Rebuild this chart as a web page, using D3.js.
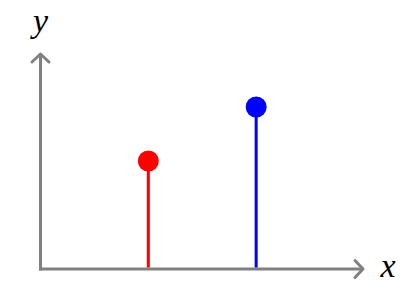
<!DOCTYPE html>
<html>
<head>
<meta charset="utf-8">
<script src="https://cdn.jsdelivr.net/npm/d3@7"></script>
<style>
  html, body { margin: 0; padding: 0; background: #fff; }
  svg { display: block; }
</style>
</head>
<body>
<svg id="chart"></svg>
<script>
const WIDTH = 414;
const HEIGHT = 304;

// data
const stemX = [1, 2];
const stemY = [1, 1.5];
const stemColors = ['#ff0000', '#0000ff'];
const axisLabels = ['x', 'y'];
const xDomain = [0, 3];
const yDomain = [0, 2];

const svg = d3.select('#chart')
	.attr('width', WIDTH)
	.attr('height', HEIGHT);

const x = d3.scaleLinear().domain(xDomain).range([40.5, 364]);
const y = d3.scaleLinear().domain(yDomain).range([269, 53]);

const axisColor = '#808080';
const labelFont = '"Liberation Serif", "DejaVu Serif", serif';

// x axis with open arrow
svg.append('line')
	.attr('x1', x(0) - 1.5).attr('y1', y(0))
	.attr('x2', x(xDomain[1]) - 2).attr('y2', y(0))
	.attr('stroke', axisColor)
	.attr('stroke-width', 3);
svg.append('path')
	.attr('d', `M${x(xDomain[1]) - 9},${y(0) - 8.5} L${x(xDomain[1]) - 1},${y(0)} L${x(xDomain[1]) - 9},${y(0) + 8.5}`)
	.attr('fill', 'none')
	.attr('stroke', axisColor)
	.attr('stroke-width', 3)
	.attr('stroke-linecap', 'round')
	.attr('stroke-linejoin', 'round');

// y axis with open arrow
svg.append('line')
	.attr('x1', x(0)).attr('y1', y(0) + 1.5)
	.attr('x2', x(0)).attr('y2', y(yDomain[1]) + 2)
	.attr('stroke', axisColor)
	.attr('stroke-width', 3);
svg.append('path')
	.attr('d', `M${x(0) - 8.5},${y(yDomain[1]) + 9} L${x(0)},${y(yDomain[1]) + 1} L${x(0) + 8.5},${y(yDomain[1]) + 9}`)
	.attr('fill', 'none')
	.attr('stroke', axisColor)
	.attr('stroke-width', 3)
	.attr('stroke-linecap', 'round')
	.attr('stroke-linejoin', 'round');

// axis labels
svg.append('text')
	.attr('x', x(xDomain[1]) + 24)
	.attr('y', y(0) + 8)
	.attr('text-anchor', 'middle')
	.attr('font-family', labelFont)
	.attr('font-style', 'italic')
	.attr('font-size', 34)
	.attr('fill', '#000')
	.text(axisLabels[0]);
svg.append('text')
	.attr('x', x(0))
	.attr('y', 32)
	.attr('text-anchor', 'middle')
	.attr('font-family', labelFont)
	.attr('font-style', 'italic')
	.attr('font-size', 34)
	.attr('fill', '#000')
	.text(axisLabels[1]);

// stems
const stems = svg.append('g')
	.selectAll('g')
	.data(stemX.map((d, i) => ({ x: d, y: stemY[i], color: stemColors[i] })))
	.enter()
	.append('g');

stems.append('line')
	.attr('x1', (d) => x(d.x))
	.attr('x2', (d) => x(d.x))
	.attr('y1', y(0) - 1.5)
	.attr('y2', (d) => y(d.y))
	.attr('stroke', (d) => d.color)
	.attr('stroke-width', 3);

stems.append('circle')
	.attr('cx', (d) => x(d.x))
	.attr('cy', (d) => y(d.y))
	.attr('r', 10.5)
	.attr('fill', (d) => d.color);
</script>
</body>
</html>
